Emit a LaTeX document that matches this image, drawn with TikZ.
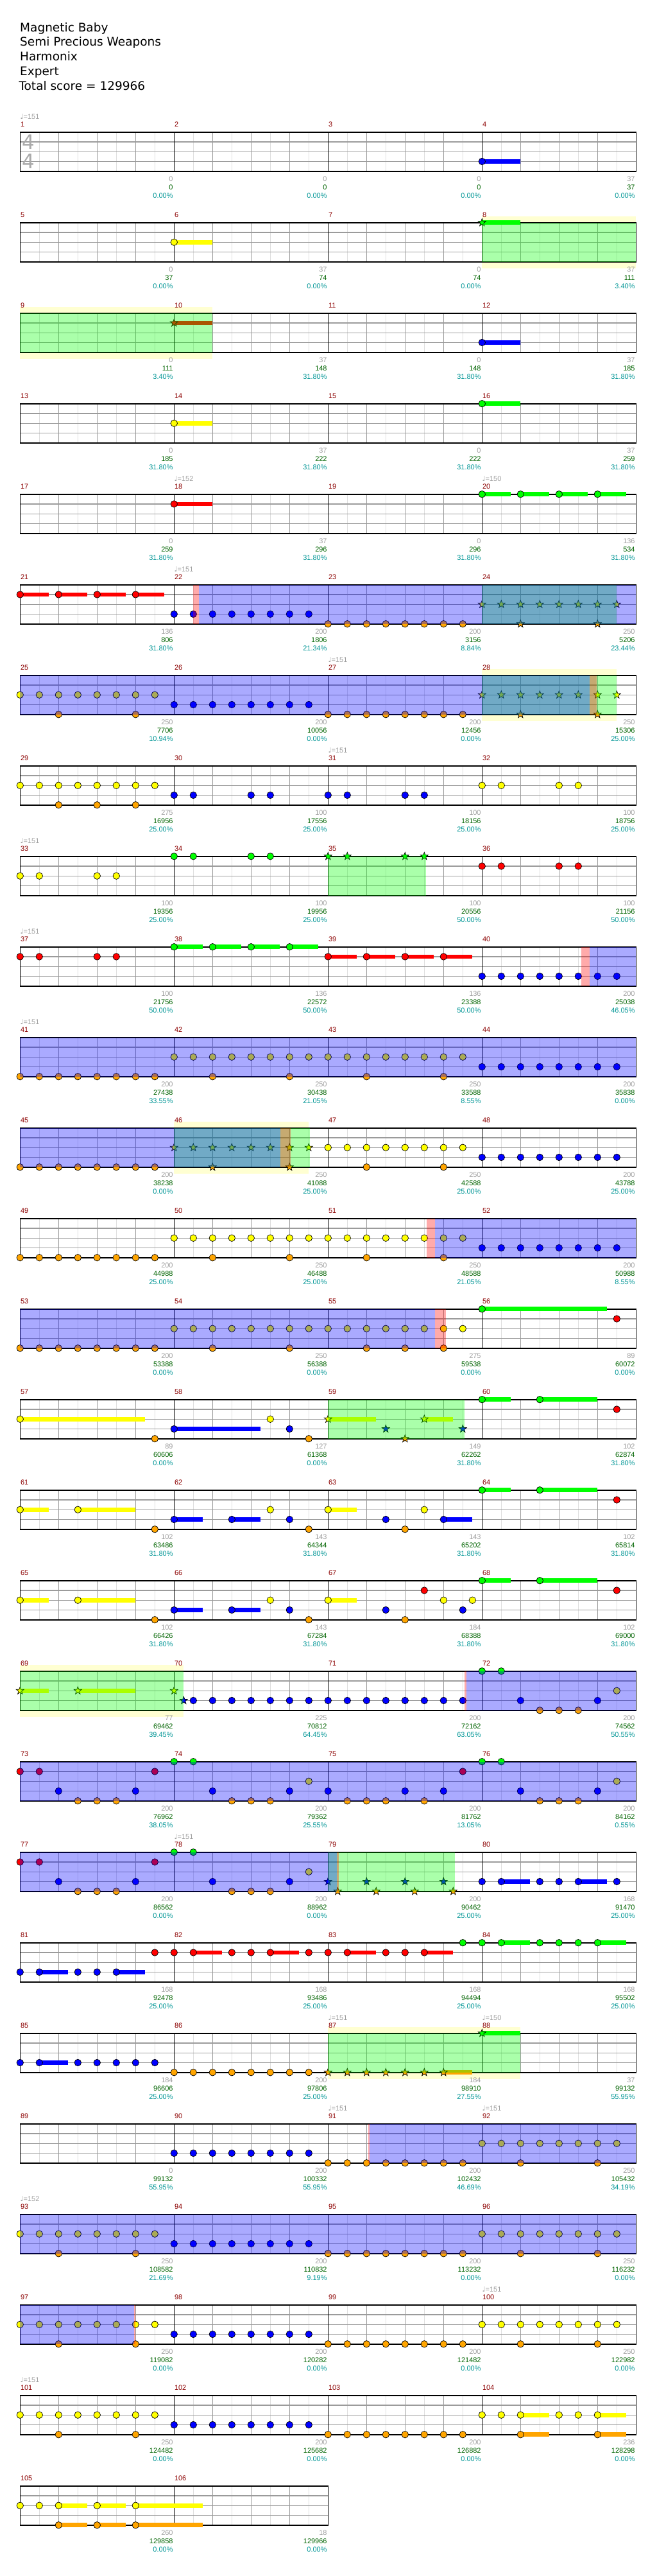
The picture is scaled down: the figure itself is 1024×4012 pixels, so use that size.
\documentclass[tikz,border=0pt]{standalone}
\usepackage{fontspec}
\setmainfont{Liberation Sans}
\newfontfamily\headfont{DejaVu Sans}
\usetikzlibrary{shapes.geometric}

\definecolor{lane0}{RGB}{0,255,0}
\definecolor{lane1}{RGB}{255,0,0}
\definecolor{lane2}{RGB}{255,255,0}
\definecolor{lane3}{RGB}{0,0,255}
\definecolor{lane4}{RGB}{255,165,0}
\definecolor{numred}{RGB}{140,0,0}
\definecolor{ptgray}{RGB}{160,160,160}
\definecolor{ptgreen}{RGB}{0,100,0}
\definecolor{ptteal}{RGB}{0,150,150}
\definecolor{spband}{RGB}{255,255,210}
\definecolor{beatgray}{RGB}{155,155,155}
\definecolor{halfgray}{RGB}{222,222,222}
\definecolor{sigray}{RGB}{170,170,170}

% measure -> row, column, left x, top y
\newcommand{\place}[1]{%
  \pgfmathtruncatemacro{\rw}{(#1-1)/4}%
  \pgfmathtruncatemacro{\cl}{#1-1-4*\rw}%
  \pgfmathsetmacro{\mX}{31.3+240*\cl}%
  \pgfmathsetmacro{\mT}{205.7+141*\rw}%
}
% one staff row: row, number of measures
\newcommand{\staffrow}[2]{%
  \pgfmathsetmacro{\mT}{205.7+141*#1}%
  \pgfmathsetmacro{\rR}{31.3+240*#2}%
  \pgfmathtruncatemacro{\kk}{8*#2-1}%
  \pgfmathtruncatemacro{\nb}{#2-1}%
  \fill[white] (31.3,\mT) rectangle (\rR,\mT+61);
  \foreach \k in {1,3,...,\kk} \draw[halfline] ({31.3+30*\k},\mT) -- ++(0,61);
  \foreach \k in {2,4,...,\kk} \draw[beatline] ({31.3+30*\k},\mT) -- ++(0,61);
  \foreach \hl in {1,2,3} \draw[beatline] (31.3,\mT+15.25*\hl) -- (\rR,\mT+15.25*\hl);
  \foreach \bb in {1,...,\nb} \draw[barline] ({31.3+240*\bb},\mT) -- ++(0,61);
  \draw[border] (31.3,\mT) rectangle (\rR,\mT+61);
}
% notes: [style] measure, lane, positions (eighths)
\newcommand{\notes}[4][note]{%
  \place{#2}%
  \foreach \p in {#4}{%
    \pgfmathtruncatemacro{\q}{2*\p}%
    \node[#1, fill=lane#3] (n#2-#3-\q) at ({\mX+30*\p},{\mT+15.25*#3}) {};
  }%
}
% sustain: measure, lane, position, length
\newcommand{\sus}[4]{%
  \place{#1}%
  \fill[lane#2] ({\mX+30*#3},{\mT+15.25*#2-3.3}) rectangle ++({30*#4},6.6);
}
% overlays: style, row, from, to (eighths of the row)
\newcommand{\zone}[4]{%
  \fill[#1] ({31.3+30*#3},{205.7+141*#2}) rectangle ({31.3+30*#4},{266.7+141*#2});
}
\newcommand{\band}[3]{%
  \fill[spband] ({31.3+30*#2},{195.7+141*#1}) rectangle ({31.3+30*#3},{276.7+141*#1});
}
% measure number and scores
\newcommand{\meas}[4]{%
  \place{#1}%
  \node[mnum] (num#1) at (\mX+0.5,\mT-8) {#1};
  \node[pgray] (pts#1) at (\mX+238.5,\mT+76.3) {#2};
  \node[pgreen] (tot#1) at (\mX+238.5,\mT+89.7) {#3};
  \node[pteal] (pct#1) at (\mX+238.5,\mT+102.4) {#4\%};
}
\newcommand{\tempo}[2]{%
  \place{#1}%
  \node[tempomark] (bpm#1) at (\mX,\mT-20.4) {{\headfont ♩}=#2};
}

\begin{document}
\begin{tikzpicture}[x=1pt, y=-1pt,
    note/.style={circle, draw, line width=0.7pt, minimum size=10.5pt, inner sep=0pt},
    spnote/.style={star, star points=5, star point ratio=2.4, draw, line width=0.7pt, minimum size=12.5pt, inner sep=0pt},
    head/.style={anchor=base west, inner sep=0pt, font=\headfont\fontsize{18.5}{22}\selectfont},
    timesig/.style={anchor=base, inner sep=0pt, text=sigray, font=\headfont\fontsize{31}{31}\selectfont},
    mnum/.style={anchor=base west, inner sep=0pt, text=numred, font=\fontsize{11}{13}\selectfont},
    pgray/.style={anchor=base east, inner sep=0pt, text=ptgray, font=\fontsize{11}{13}\selectfont},
    pgreen/.style={anchor=base east, inner sep=0pt, text=ptgreen, font=\fontsize{11}{13}\selectfont},
    pteal/.style={anchor=base east, inner sep=0pt, text=ptteal, font=\fontsize{11}{13}\selectfont},
    tempomark/.style={anchor=base west, inner sep=0pt, text=ptgray, font=\fontsize{11}{13}\selectfont},
    border/.style={line width=1.6pt},
    barline/.style={line width=1.3pt},
    beatline/.style={draw=beatgray, line width=1.2pt},
    halfline/.style={draw=halfgray, line width=1pt},
    gzone/.style={fill=lane0, fill opacity=0.333},
    bzone/.style={fill=lane3, fill opacity=0.333},
    rzone/.style={fill=lane1, fill opacity=0.333}
  ]
  \fill[white] (0,0) rectangle (1024,4012);
  \useasboundingbox (0,0) rectangle (1024,4012);

  % header
  \node[head] (title) at (31,49.3) {Magnetic Baby};
  \node[head] (artist) at (31,71.7) {Semi Precious Weapons};
  \node[head] (charter) at (31,95) {Harmonix};
  \node[head] (level) at (31,117.7) {Expert};
  \node[head] (total) at (29.3,140.7) {Total score = 129966};

  % star power phrases
  \band{1}{24}{32} \band{2}{0}{10} \band{6}{24}{31}
  \band{11}{8}{15} \band{17}{0}{8.5} \band{21}{16}{26}

  % staves
  \foreach \r in {0,...,25} \staffrow{\r}{4};
  \staffrow{26}{2}
  \node[timesig] (tsa) at (44.5,232) {4};
  \node[timesig] (tsb) at (44.5,262) {4};

  % measure numbers and scores
  \foreach \m/\g/\tot/\pc in {1/0/0/0.00, 2/0/0/0.00, 3/0/0/0.00, 4/37/37/0.00,
      5/0/37/0.00, 6/37/74/0.00, 7/0/74/0.00, 8/37/111/3.40,
      9/0/111/3.40, 10/37/148/31.80, 11/0/148/31.80, 12/37/185/31.80,
      13/0/185/31.80, 14/37/222/31.80, 15/0/222/31.80, 16/37/259/31.80,
      17/0/259/31.80, 18/37/296/31.80, 19/0/296/31.80, 20/136/534/31.80,
      21/136/806/31.80, 22/200/1806/21.34, 23/200/3156/8.84, 24/250/5206/23.44,
      25/250/7706/10.94, 26/200/10056/0.00, 27/200/12456/0.00, 28/250/15306/25.00,
      29/275/16956/25.00, 30/100/17556/25.00, 31/100/18156/25.00, 32/100/18756/25.00,
      33/100/19356/25.00, 34/100/19956/25.00, 35/100/20556/50.00, 36/100/21156/50.00,
      37/100/21756/50.00, 38/136/22572/50.00, 39/136/23388/50.00, 40/200/25038/46.05,
      41/200/27438/33.55, 42/250/30438/21.05, 43/250/33588/8.55, 44/200/35838/0.00,
      45/200/38238/0.00, 46/250/41088/25.00, 47/250/42588/25.00, 48/200/43788/25.00,
      49/200/44988/25.00, 50/250/46488/25.00, 51/250/48588/21.05, 52/200/50988/8.55,
      53/200/53388/0.00, 54/250/56388/0.00, 55/275/59538/0.00, 56/89/60072/0.00,
      57/89/60606/0.00, 58/127/61368/0.00, 59/149/62262/31.80, 60/102/62874/31.80,
      61/102/63486/31.80, 62/143/64344/31.80, 63/143/65202/31.80, 64/102/65814/31.80,
      65/102/66426/31.80, 66/143/67284/31.80, 67/184/68388/31.80, 68/102/69000/31.80,
      69/77/69462/39.45, 70/225/70812/64.45, 71/200/72162/63.05, 72/200/74562/50.55,
      73/200/76962/38.05, 74/200/79362/25.55, 75/200/81762/13.05, 76/200/84162/0.55,
      77/200/86562/0.00, 78/200/88962/0.00, 79/200/90462/25.00, 80/168/91470/25.00,
      81/168/92478/25.00, 82/168/93486/25.00, 83/168/94494/25.00, 84/168/95502/25.00,
      85/184/96606/25.00, 86/200/97806/25.00, 87/184/98910/27.55, 88/37/99132/55.95,
      89/0/99132/55.95, 90/200/100332/55.95, 91/200/102432/46.69, 92/250/105432/34.19,
      93/250/108582/21.69, 94/200/110832/9.19, 95/200/113232/0.00, 96/250/116232/0.00,
      97/250/119082/0.00, 98/200/120282/0.00, 99/200/121482/0.00, 100/250/122982/0.00,
      101/250/124482/0.00, 102/200/125682/0.00, 103/200/126882/0.00, 104/236/128298/0.00,
      105/260/129858/0.00, 106/18/129966/0.00}
    \meas{\m}{\g}{\tot}{\pc};

  % tempo changes
  \foreach \m/\v in {1/151, 18/152, 20/150, 22/151, 27/151, 31/151, 33/151, 37/151,
      41/151, 78/151, 87/151, 88/150, 91/151, 92/151, 93/152, 100/151, 101/151}
    \tempo{\m}{\v};

  % notes
  \sus{4}{3}{0}{2} \notes{4}{3}{0}
  \sus{6}{2}{0}{2} \notes{6}{2}{0}
  \sus{8}{0}{0}{2} \notes[spnote]{8}{0}{0}
  \sus{10}{1}{0}{2} \notes[spnote]{10}{1}{0}
  \sus{12}{3}{0}{2} \notes{12}{3}{0}
  \sus{14}{2}{0}{2} \notes{14}{2}{0}
  \sus{16}{0}{0}{2} \notes{16}{0}{0}
  \sus{18}{1}{0}{2} \notes{18}{1}{0}
  \foreach \s in {0,2,4,6} {\sus{20}{0}{\s}{1.5} \sus{21}{1}{\s}{1.5}}
  \notes{20}{0}{0,2,4,6}
  \notes{21}{1}{0,2,4,6}
  \notes{22}{3}{0,...,7}
  \notes{23}{4}{0,...,7}
  \notes[spnote]{24}{2}{0,...,7} \notes[spnote]{24}{4}{2,6}
  \notes{25}{2}{0,...,7} \notes{25}{4}{2,6}
  \notes{26}{3}{0,...,7}
  \notes{27}{4}{0,...,7}
  \notes[spnote]{28}{2}{0,...,7} \notes[spnote]{28}{4}{2,6}
  \notes{29}{2}{0,...,7} \notes{29}{4}{2,4,6}
  \notes{30}{3}{0,1,4,5}
  \notes{31}{3}{0,1,4,5}
  \notes{32}{2}{0,1,4,5}
  \notes{33}{2}{0,1,4,5}
  \notes{34}{0}{0,1,4,5}
  \notes[spnote]{35}{0}{0,1,4,5}
  \notes{36}{1}{0,1,4,5}
  \notes{37}{1}{0,1,4,5}
  \foreach \s in {0,2,4,6} {\sus{38}{0}{\s}{1.5} \sus{39}{1}{\s}{1.5}}
  \notes{38}{0}{0,2,4,6}
  \notes{39}{1}{0,2,4,6}
  \notes{40}{3}{0,...,7}
  \notes{41}{4}{0,...,7}
  \notes{42}{2}{0,...,7} \notes{42}{4}{2,6}
  \notes{43}{2}{0,...,7} \notes{43}{4}{2,6}
  \notes{44}{3}{0,...,7}
  \notes{45}{4}{0,...,7}
  \notes[spnote]{46}{2}{0,...,7} \notes[spnote]{46}{4}{2,6}
  \notes{47}{2}{0,...,7} \notes{47}{4}{2,6}
  \notes{48}{3}{0,...,7}
  \notes{49}{4}{0,...,7}
  \notes{50}{2}{0,...,7} \notes{50}{4}{2,6}
  \notes{51}{2}{0,...,7} \notes{51}{4}{2,6}
  \notes{52}{3}{0,...,7}
  \notes{53}{4}{0,...,7}
  \notes{54}{2}{0,...,7} \notes{54}{4}{2,6}
  \notes{55}{2}{0,...,7} \notes{55}{4}{2,4,6}
  \sus{56}{0}{0}{6.5} \notes{56}{0}{0} \notes{56}{1}{7}
  \sus{57}{2}{0}{6.5} \notes{57}{2}{0} \notes{57}{4}{7}
  \sus{58}{3}{0}{4.5} \notes{58}{3}{0,6} \notes{58}{2}{5} \notes{58}{4}{7}
  \sus{59}{2}{0}{2.5} \sus{59}{2}{5}{1.5}
  \notes[spnote]{59}{2}{0,5} \notes[spnote]{59}{3}{3,7} \notes[spnote]{59}{4}{4}
  \foreach \m in {60,64,68} {\sus{\m}{0}{0}{1.5} \sus{\m}{0}{3}{3} \notes{\m}{0}{0,3} \notes{\m}{1}{7}}
  \foreach \m in {61,65} {\sus{\m}{2}{0}{1.5} \sus{\m}{2}{3}{3} \notes{\m}{2}{0,3} \notes{\m}{4}{7}}
  \foreach \m in {62,66} {\sus{\m}{3}{0}{1.5} \sus{\m}{3}{3}{1.5} \notes{\m}{3}{0,3,6}
    \notes{\m}{2}{5} \notes{\m}{4}{7}}
  \sus{63}{2}{0}{1.5} \sus{63}{3}{6}{1.5}
  \notes{63}{2}{0,5} \notes{63}{3}{3,6} \notes{63}{4}{4}
  \sus{67}{2}{0}{1.5}
  \notes{67}{2}{0,6,7.5} \notes{67}{3}{3,7} \notes{67}{4}{4} \notes{67}{1}{5}
  \sus{69}{2}{0}{1.5} \sus{69}{2}{3}{3}
  \notes[spnote]{69}{2}{0,3} \notes[spnote]{70}{2}{0} \notes[spnote]{70}{3}{0.5}
  \notes{70}{3}{1,...,7}
  \notes{71}{3}{0,...,7}
  \foreach \m in {72,74,76,78} {\notes{\m}{0}{0,1} \notes{\m}{3}{2,6} \notes{\m}{4}{3,4,5} \notes{\m}{2}{7}}
  \foreach \m in {73,77} {\notes{\m}{1}{0,1,7} \notes{\m}{3}{2,6} \notes{\m}{4}{3,4,5}}
  \notes{75}{3}{0,4,6} \notes{75}{4}{1,2,3,5} \notes{75}{1}{7}
  \notes[spnote]{79}{3}{0,2,4,6} \notes[spnote]{79}{4}{0.5,2.5,4.5,6.5}
  \sus{80}{3}{1}{1.5} \sus{80}{3}{5}{1.5} \notes{80}{3}{0,1,3,4,5,7}
  \sus{81}{3}{1}{1.5} \sus{81}{3}{5}{1.5} \notes{81}{3}{0,1,3,4,5} \notes{81}{1}{7}
  \sus{82}{1}{1}{1.5} \sus{82}{1}{5}{1.5} \notes{82}{1}{0,1,3,4,5,7}
  \sus{83}{1}{1}{1.5} \sus{83}{1}{5}{1.5} \notes{83}{1}{0,1,3,4,5} \notes{83}{0}{7}
  \sus{84}{0}{1}{1.5} \sus{84}{0}{6}{1.5} \notes{84}{0}{0,1,3,4,5,6}
  \sus{85}{3}{1}{1.5} \notes{85}{3}{0,1,3,4,5,6,7}
  \notes{86}{4}{0,...,7}
  \sus{87}{4}{6}{1.5} \notes[spnote]{87}{4}{0,...,6}
  \sus{88}{0}{0}{2} \notes[spnote]{88}{0}{0}
  \foreach \m in {90,94,98,102} {\notes{\m}{3}{0,...,7}}
  \foreach \m in {91,95,99,103} {\notes{\m}{4}{0,...,7}}
  \foreach \m in {92,93,96,97,100,101} {\notes{\m}{2}{0,...,7} \notes{\m}{4}{2,6}}
  \foreach \s in {2,6} {\sus{104}{2}{\s}{1.5} \sus{104}{4}{\s}{1.5}}
  \notes{104}{2}{0,1,2,4,5,6} \notes{104}{4}{2,6}
  \foreach \s/\len in {2/1.5, 4/1.5, 6/3.5} {\sus{105}{2}{\s}{\len} \sus{105}{4}{\s}{\len}}
  \notes{105}{2}{0,1,2,4,6} \notes{105}{4}{2,4,6}

  % star power and overdrive zones
  \zone{gzone}{1}{24}{32} \zone{gzone}{2}{0}{10} \zone{gzone}{5}{24}{31}
  \zone{gzone}{6}{24}{31} \zone{gzone}{8}{16}{21.1} \zone{gzone}{11}{8}{15.05}
  \zone{gzone}{14}{16}{23.1} \zone{gzone}{17}{0}{8.5} \zone{gzone}{19}{16}{22.6}
  \zone{gzone}{21}{16}{26}
  \zone{bzone}{5}{9.29}{32} \zone{bzone}{6}{0}{29.6} \zone{bzone}{9}{29.6}{32}
  \zone{bzone}{10}{0}{32} \zone{bzone}{11}{0}{13.52} \zone{bzone}{12}{21.57}{32}
  \zone{bzone}{13}{0}{21.57} \zone{bzone}{17}{23.19}{32} \zone{bzone}{18}{0}{32}
  \zone{bzone}{19}{0}{16.45} \zone{bzone}{22}{18.16}{32} \zone{bzone}{23}{0}{32}
  \zone{bzone}{24}{0}{5.91}
  \zone{rzone}{5}{8.99}{9.29} \zone{rzone}{6}{29.6}{29.96} \zone{rzone}{9}{29.14}{29.6}
  \zone{rzone}{11}{13.52}{14.07} \zone{rzone}{12}{21.11}{21.57} \zone{rzone}{13}{21.57}{22.12}
  \zone{rzone}{17}{23.08}{23.19} \zone{rzone}{19}{16.45}{16.56} \zone{rzone}{22}{18.09}{18.16}
  \zone{rzone}{24}{5.91}{6.0}
\end{tikzpicture}
\end{document}
